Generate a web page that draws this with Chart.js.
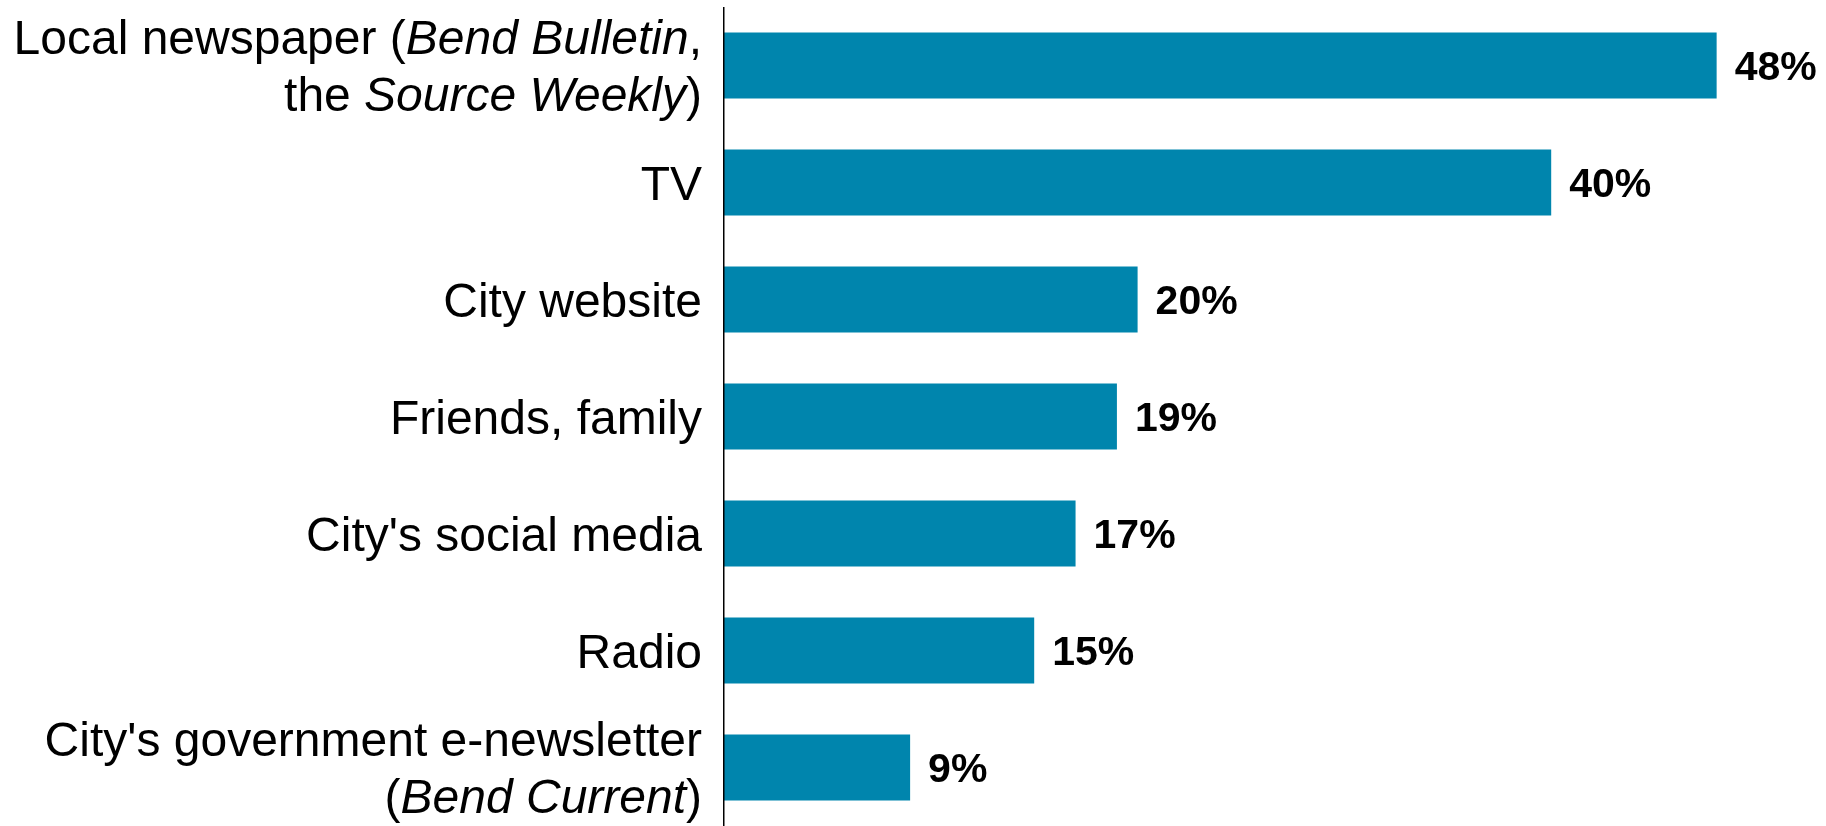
<!DOCTYPE html>
<html>
<head>
<meta charset="utf-8">
<title>Sources of city news</title>
<script src="https://cdn.jsdelivr.net/npm/chart.js@4/dist/chart.umd.min.js"></script>
<style>
  html, body { margin: 0; padding: 0; background: #ffffff; }
  #wrap { width: 1826px; height: 826px; position: relative; }
</style>
</head>
<body>
<div id="wrap"><canvas id="chart"></canvas></div>
<script>
// Category labels: each entry is a list of lines; text between *asterisks* is set in italics.
const categories = [
  ["Local newspaper (*Bend Bulletin*,", "the *Source Weekly*)"],
  ["TV"],
  ["City website"],
  ["Friends, family"],
  ["City's social media"],
  ["Radio"],
  ["City's government e-newsletter", "(*Bend Current*)"]
];

// Share of respondents naming each source (percent)
const shares = [48, 40, 20, 19, 17, 15, 9];

const BAR_COLOR = "#0085ad";
const FONT = "'Liberation Sans', Arial, Helvetica, sans-serif";
const LABEL_SIZE = 48;
const LABEL_LINE = 57;
const VALUE_SIZE = 41;

// Split a line into plain / italic runs
function runs(line) {
  return line.split("*").map((t, i) => ({ text: t, italic: i % 2 === 1 })).filter(r => r.text.length);
}

// Category labels drawn beside the axis (mixed roman / italic runs)
const categoryLabels = {
  id: "categoryLabels",
  afterDraw(chart) {
    const { ctx } = chart;
    const y = chart.scales.y;
    const right = chart.chartArea.left - 22;
    ctx.save();
    ctx.fillStyle = "#000";
    ctx.textBaseline = "alphabetic";
    ctx.textAlign = "left";
    categories.forEach((lines, i) => {
      const cy = y.getPixelForValue(i);
      const firstCenter = cy - (lines.length - 1) * LABEL_LINE / 2;
      lines.forEach((line, j) => {
        const parts = runs(line);
        let width = 0;
        parts.forEach(p => {
          ctx.font = (p.italic ? "italic " : "") + LABEL_SIZE + "px " + FONT;
          p.w = ctx.measureText(p.text).width;
          width += p.w;
        });
        let x = right - width;
        const base = firstCenter + j * LABEL_LINE + LABEL_SIZE * 0.358;
        parts.forEach(p => {
          ctx.font = (p.italic ? "italic " : "") + LABEL_SIZE + "px " + FONT;
          ctx.fillText(p.text, x, base);
          x += p.w;
        });
      });
    });
    ctx.restore();
  }
};

// Value labels at the end of each bar
const valueLabels = {
  id: "valueLabels",
  afterDatasetsDraw(chart) {
    const { ctx } = chart;
    const meta = chart.getDatasetMeta(0);
    ctx.save();
    ctx.fillStyle = "#000";
    ctx.font = "bold " + VALUE_SIZE + "px " + FONT;
    ctx.textAlign = "left";
    ctx.textBaseline = "alphabetic";
    meta.data.forEach((bar, i) => {
      ctx.fillText(shares[i] + "%", bar.x + 18, bar.y + VALUE_SIZE * 0.358);
    });
    ctx.restore();
  }
};

// Vertical category axis line
const axisLine = {
  id: "axisLine",
  afterDatasetsDraw(chart) {
    const { ctx, chartArea } = chart;
    ctx.save();
    ctx.strokeStyle = "#000";
    ctx.lineWidth = 1.5;
    ctx.beginPath();
    ctx.moveTo(chartArea.left - 0.25, chartArea.top);
    ctx.lineTo(chartArea.left - 0.25, chartArea.bottom + 10);
    ctx.stroke();
    ctx.restore();
  }
};

new Chart(document.getElementById("chart"), {
  type: "bar",
  data: {
    labels: categories.map(l => l.join(" ").replace(/\*/g, "")),
    datasets: [{
      data: shares,
      backgroundColor: BAR_COLOR,
      borderWidth: 0,
      barPercentage: 0.566,
      categoryPercentage: 1
    }]
  },
  options: {
    indexAxis: "y",
    responsive: true,
    maintainAspectRatio: false,
    animation: false,
    layout: { padding: { left: 0, right: 68, top: 7, bottom: -4 } },
    plugins: {
      legend: { display: false },
      tooltip: { enabled: false },
      title: { display: false }
    },
    scales: {
      x: {
        min: 0,
        max: 50,
        display: false,
        grid: { display: false }
      },
      y: {
        grid: { display: false },
        border: { display: false },
        ticks: { display: false },
        afterFit(scale) { scale.width = 724; }
      }
    }
  },
  plugins: [categoryLabels, valueLabels, axisLine]
});
</script>
</body>
</html>
